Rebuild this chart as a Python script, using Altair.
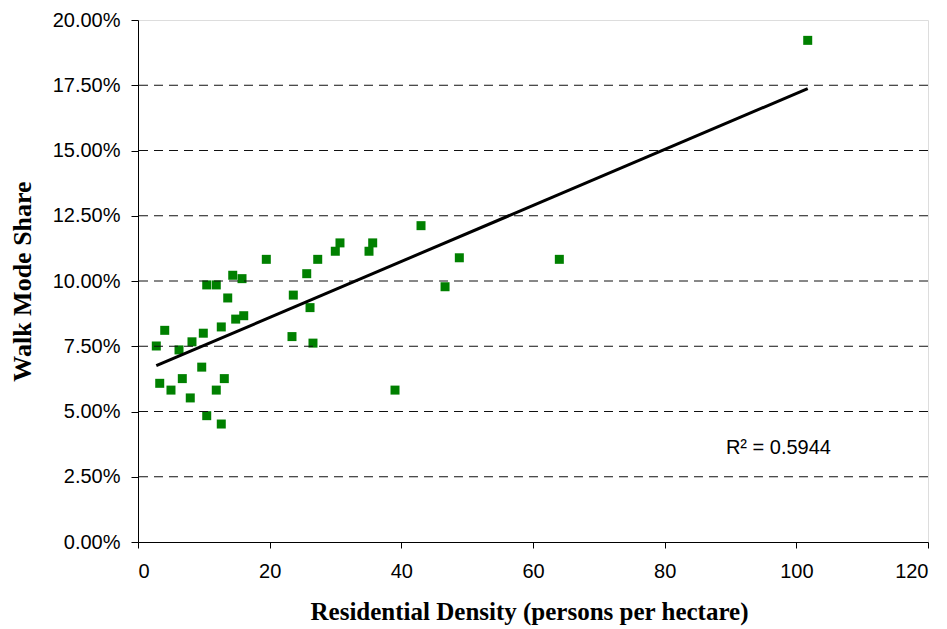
import altair as alt
import pandas as pd

# Residential density (persons per hectare)
density = [2.78, 3.30, 4.06, 5.01, 6.23, 6.73, 8.20, 7.94, 9.68, 9.92,
           10.44, 10.44, 11.89, 11.89, 12.65, 12.65, 13.11, 13.63, 14.39, 14.84,
           15.80, 16.06, 19.49, 23.39, 23.59, 25.63, 26.13, 26.58, 27.30, 29.97,
           30.68, 35.09, 35.65, 39.04, 42.99, 46.64, 48.81, 64.0, 101.73]
# Walk mode share (fraction)
walk_share = [0.0751, 0.0608, 0.0811, 0.0582, 0.0736, 0.0626, 0.0767, 0.0552, 0.0670, 0.0800,
              0.0985, 0.0484, 0.0985, 0.0582, 0.0824, 0.0452, 0.0626, 0.0935, 0.1022, 0.0854,
              0.1009, 0.0867, 0.1083, 0.0787, 0.0946, 0.1028, 0.0898, 0.0762, 0.1083, 0.1114,
              0.1146, 0.1114, 0.1146, 0.0582, 0.1212, 0.0978, 0.1089, 0.1083, 0.1922]

x_ticks = [0, 20, 40, 60, 80, 100, 120]
y_ticks = [0, 0.025, 0.05, 0.075, 0.10, 0.125, 0.15, 0.175, 0.20]
grid_values = [0.025, 0.05, 0.075, 0.10, 0.125, 0.15, 0.175]

r2_label = ["R\u00b2 = 0.5944"]
r2_x = [89.3]
r2_y = [0.036]

df = pd.DataFrame({"density": density, "share": walk_share})
grid_df = pd.DataFrame({"share": grid_values})
r2_df = pd.DataFrame({"density": r2_x, "share": r2_y, "t": r2_label})

xscale = alt.Scale(domain=[0, 120], nice=False, zero=False)
yscale = alt.Scale(domain=[0, 0.2], nice=False)

x_axis = alt.Axis(
    values=x_ticks, grid=False, title="Residential Density (persons per hectare)",
    labelFont="Liberation Sans", labelFontSize=20, labelColor="black",
    labelPadding=13, tickSize=6, tickColor="black", domainColor="black",
    titleFont="Liberation Serif", titleFontSize=25, titleFontWeight="bold",
    titleColor="black", titleX=391, titleY=69, titleBaseline="middle",
)
y_axis = alt.Axis(
    values=y_ticks, format=".2%", grid=False, title="Walk Mode Share",
    labelFont="Liberation Sans", labelFontSize=20, labelColor="black",
    labelPadding=11, tickSize=7, tickColor="black", domainColor="black",
    titleFont="Liberation Serif", titleFontSize=26, titleFontWeight="bold",
    titleColor="black", titleX=-116, titleBaseline="middle",
)

X = alt.X("density:Q", scale=xscale, axis=x_axis)
Y = alt.Y("share:Q", scale=yscale, axis=y_axis)

points = alt.Chart(df).mark_square(size=81, color="#008000", opacity=1).encode(x=X, y=Y)

grid = alt.Chart(grid_df).mark_rule(color="#111111", strokeWidth=1, strokeDash=[9, 6]).encode(y=Y)

trend = alt.Chart(df).transform_regression("density", "share").mark_line(
    color="black", strokeWidth=3
).encode(x=X, y=Y)

r2 = alt.Chart(r2_df).mark_text(
    align="left", baseline="middle", font="Liberation Sans", fontSize=20, color="black"
).encode(x=X, y=Y, text="t:N")

chart = alt.layer(points, grid, trend, r2).properties(
    width=790, height=522,
    autosize=alt.AutoSizeParams(type="none"),
    padding={"left": 130, "top": 12, "right": 10, "bottom": 86},
).configure_view(stroke="#808080", strokeWidth=1.5).configure(background="white")

chart.save("out.html", embed_options={"renderer": "svg", "actions": False})
